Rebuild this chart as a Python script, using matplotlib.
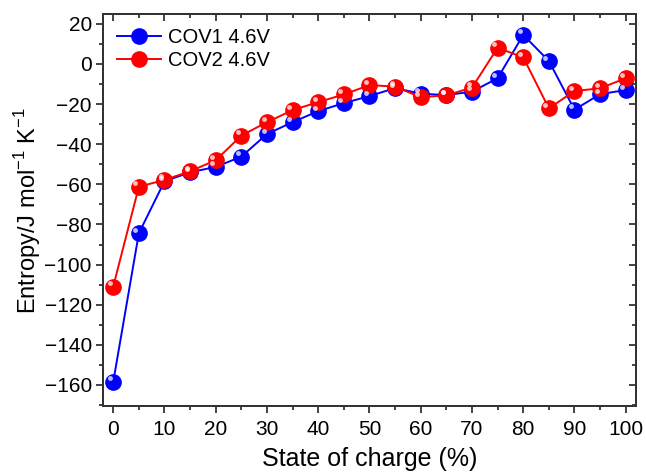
import matplotlib
matplotlib.use("Agg")
import matplotlib.pyplot as plt
from matplotlib.ticker import MultipleLocator
from matplotlib.transforms import ScaledTranslation

plt.rcParams['font.family'] = ['Liberation Sans', 'DejaVu Sans']

soc = [0, 5, 10, 15, 20, 25, 30, 35, 40, 45, 50, 55, 60, 65, 70, 75, 80, 85, 90, 95, 100]
cov1 = [-158.5, -84.4, -58.5, -54, -51.3, -46.2, -34.9, -29, -23.5, -19.5, -16, -12, -14.8, -15.5, -13.8, -7.1, 14.5, 1.5, -22.8, -15, -13]
cov2 = [-111, -61.2, -57.8, -53.5, -48, -35.7, -29, -23, -19, -15.2, -10.5, -11.3, -16.6, -15.6, -11.8, 8.1, 3.3, -22.1, -13.5, -12.1, -7.1]
labels = ['COV1 4.6V', 'COV2 4.6V']
colors = ['#0000ff', '#ff0000']

fig = plt.figure(figsize=(6.46, 4.75), dpi=100)
ax = fig.add_axes([0.1594, 0.1453, 0.8251, 0.8247])

for y, lab, c in zip([cov1, cov2], labels, colors):
    ax.plot(soc, y, '-', color=c, lw=1.4, marker='o', ms=11,
            mfc=c, mec=c, label=lab, zorder=3)
    off = ScaledTranslation(-2.5/72, 2.5/72, fig.dpi_scale_trans)
    ax.plot(soc, y, 'o', ms=3.5, mfc='white', mec='none', alpha=0.75,
            transform=ax.transData + off, zorder=4)

ax.set_xlim(-2, 102)
ax.set_ylim(-170.5, 24.8)
ax.xaxis.set_major_locator(MultipleLocator(10))
ax.xaxis.set_minor_locator(MultipleLocator(5))
ax.yaxis.set_major_locator(MultipleLocator(20))
ax.yaxis.set_minor_locator(MultipleLocator(10))

ax.tick_params(axis='both', which='major', direction='out', length=5, width=1.2,
               labelsize=15, colors='#222222', labelcolor='black')
ax.tick_params(axis='x', which='major', pad=5)
ax.tick_params(axis='y', which='major', pad=3)
ax.tick_params(axis='both', which='minor', direction='out', length=3, width=1.2, colors='#222222')

ax2 = ax.twinx()
ax2.set_ylim(ax.get_ylim())
ax2.yaxis.set_major_locator(MultipleLocator(20))
ax2.yaxis.set_minor_locator(MultipleLocator(10))
ax2.tick_params(axis='y', which='both', direction='in', length=5, width=1.2,
                labelright=False, colors='#222222')
ax2.tick_params(axis='y', which='minor', length=3)
ax3 = ax.twiny()
ax3.set_xlim(ax.get_xlim())
ax3.xaxis.set_major_locator(MultipleLocator(10))
ax3.xaxis.set_minor_locator(MultipleLocator(5))
ax3.tick_params(axis='x', which='both', direction='in', length=5, width=1.2,
                labeltop=False, colors='#222222')
ax3.tick_params(axis='x', which='minor', length=3)

for a in (ax, ax2, ax3):
    for s in a.spines.values():
        s.set_linewidth(1.4)
        s.set_color('#333333')

ax.set_xlabel('State of charge (%)', fontsize=18, labelpad=6)
ax.set_ylabel('Entropy/J mol$^{\\mathregular{-1}}$ K$^{\\mathregular{-1}}$', fontsize=17, labelpad=1)

ax.legend(loc='upper left', frameon=False, fontsize=14.5, handlelength=2.2,
          handletextpad=0.35, borderaxespad=0.3, labelspacing=0.2,
          bbox_to_anchor=(0.0, 1.0))

fig.savefig('out.png', dpi=100)
